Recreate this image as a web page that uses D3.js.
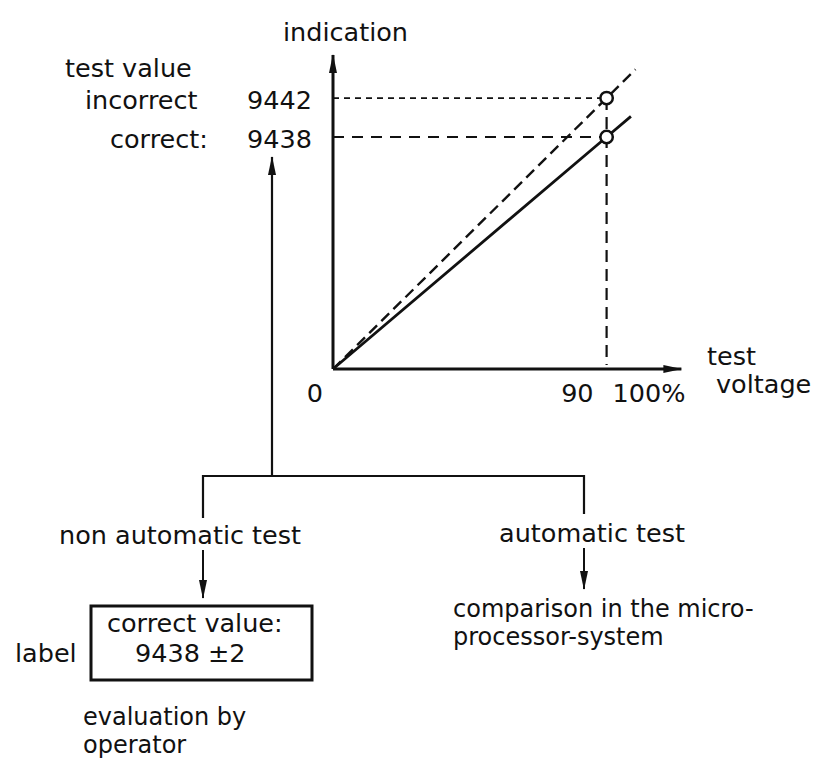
<!DOCTYPE html>
<html>
<head>
<meta charset="utf-8">
<script src="https://cdn.jsdelivr.net/npm/d3@7"></script>
<style>
    body { margin: 0; background: #fff; }
    text { font-family: "DejaVu Sans", sans-serif; font-size: 25.5px; fill: #111; }
    text.small { font-size: 24px; }
</style>
</head>
<body>
<div id="chart-container"></div>
<script>
// test voltage in % of range, indication in relative units (schematic)
const correctVoltage = [0, 90, 98];
const correctIndication = [0, 90, 98];
const incorrectVoltage = [0, 90, 99.5];
const incorrectIndication = [0, 105.1, 116.2];

const markVoltage = 90;
const testValueNames = ["incorrect", "correct:"];
const testValueLabels = ["9442", "9438"];
const testValueLevels = [105.1, 90];

const xTickValues = [0, 90, 100];
const xTickLabels = ["0", "90", "100%"];

const width = 813, height = 765;

const svg = d3.select("#chart-container")
    .append("svg")
    .attr("width", width)
    .attr("height", height);

svg.append("rect").attr("width", width).attr("height", height).attr("fill", "#fff");

// arrow heads
const defs = svg.append("defs");
defs.append("marker")
    .attr("id", "arrow")
    .attr("markerUnits", "userSpaceOnUse")
    .attr("viewBox", "0 0 19 10")
    .attr("refX", 18).attr("refY", 5)
    .attr("markerWidth", 19).attr("markerHeight", 10)
    .attr("orient", "auto")
    .append("path")
    .attr("d", "M0,1 L19,5 L0,9 Z")
    .attr("fill", "#111");

// scales
const x = d3.scaleLinear().domain([0, 100]).range([333, 637]);
const y = d3.scaleLinear().domain([0, 90]).range([369, 137]);

// axes (arrows beyond the data range)
svg.append("line")
    .attr("x1", x(0)).attr("y1", y(0))
    .attr("x2", x(114.6)).attr("y2", y(0))
    .attr("stroke", "#111").attr("stroke-width", 3)
    .attr("marker-end", "url(#arrow)");
svg.append("line")
    .attr("x1", x(0)).attr("y1", y(0))
    .attr("x2", x(0)).attr("y2", y(121.8))
    .attr("stroke", "#111").attr("stroke-width", 3)
    .attr("marker-end", "url(#arrow)");

// helper lines to the marks
const hiY = y(testValueLevels[0]), loY = y(testValueLevels[1]);
svg.append("line")
    .attr("x1", x(0)).attr("y1", hiY).attr("x2", x(markVoltage) - 6).attr("y2", hiY)
    .attr("stroke", "#111").attr("stroke-width", 1.7)
    .attr("stroke-dasharray", "6 5");
svg.append("line")
    .attr("x1", x(0)).attr("y1", loY).attr("x2", x(markVoltage) - 6).attr("y2", loY)
    .attr("stroke", "#111").attr("stroke-width", 2)
    .attr("stroke-dasharray", "11 8");
svg.append("line")
    .attr("x1", x(markVoltage)).attr("y1", hiY).attr("x2", x(markVoltage)).attr("y2", y(0) - 4)
    .attr("stroke", "#111").attr("stroke-width", 2.2)
    .attr("stroke-dasharray", "12 7");

// characteristic lines
const line = d3.line().x(d => x(d[0])).y(d => y(d[1]));
svg.append("path")
    .datum(d3.zip(incorrectVoltage, incorrectIndication))
    .attr("d", line)
    .attr("fill", "none").attr("stroke", "#111").attr("stroke-width", 2.4)
    .attr("stroke-dasharray", "11 6");
svg.append("path")
    .datum(d3.zip(correctVoltage, correctIndication))
    .attr("d", line)
    .attr("fill", "none").attr("stroke", "#111").attr("stroke-width", 2.8);

// test points
svg.selectAll("circle.pt")
    .data(testValueLevels)
    .join("circle")
    .attr("class", "pt")
    .attr("cx", x(markVoltage))
    .attr("cy", d => y(d))
    .attr("r", 6.2)
    .attr("fill", "#fff").attr("stroke", "#111").attr("stroke-width", 2.5);

// axis texts
svg.append("text").attr("x", 283).attr("y", 41).text("indication");
svg.append("text").attr("x", 707).attr("y", 365).text("test");
svg.append("text").attr("x", 716).attr("y", 393).text("voltage");

svg.selectAll("text.xtick")
    .data(xTickValues)
    .join("text")
    .attr("class", "xtick")
    .attr("x", (d, i) => i == 2 ? x(markVoltage) + 6 : x(d) - [10, 13][i])
    .attr("y", y(0) + 33)
    .attr("text-anchor", (d, i) => i == 2 ? "start" : "end")
    .text((d, i) => xTickLabels[i]);

// test value labels
svg.append("text").attr("x", 65).attr("y", 77).text("test value");
svg.selectAll("text.tvname")
    .data(testValueLevels)
    .join("text")
    .attr("class", "tvname")
    .attr("x", (d, i) => [85, 110][i])
    .attr("y", d => y(d) + 11)
    .text((d, i) => testValueNames[i]);
svg.selectAll("text.tvval")
    .data(testValueLevels)
    .join("text")
    .attr("class", "tvval")
    .attr("x", 247)
    .attr("y", d => y(d) + 11)
    .text((d, i) => testValueLabels[i]);

// flow part
const flow = svg.append("g").attr("stroke", "#111").attr("fill", "none");
flow.append("line")
    .attr("x1", 272).attr("y1", 476).attr("x2", 272).attr("y2", 157)
    .attr("stroke-width", 2.2)
    .attr("marker-end", "url(#arrow)");
flow.append("path")
    .attr("d", "M203,518 V476 H584 V514")
    .attr("stroke-width", 2.2);
flow.append("line")
    .attr("x1", 203).attr("y1", 550).attr("x2", 203).attr("y2", 598)
    .attr("stroke-width", 2)
    .attr("marker-end", "url(#arrow)");
flow.append("line")
    .attr("x1", 584).attr("y1", 548).attr("x2", 584).attr("y2", 589)
    .attr("stroke-width", 2)
    .attr("marker-end", "url(#arrow)");
flow.append("rect")
    .attr("x", 91).attr("y", 606).attr("width", 221).attr("height", 74)
    .attr("stroke-width", 3);

svg.append("text").attr("x", 59).attr("y", 544).text("non automatic test");
svg.append("text").attr("x", 499).attr("y", 542).text("automatic test");
svg.append("text").attr("class", "small").attr("x", 453).attr("y", 617).text("comparison in the micro-");
svg.append("text").attr("class", "small").attr("x", 453).attr("y", 645).text("processor-system");
svg.append("text").attr("x", 107).attr("y", 632).text("correct value:");
svg.append("text").attr("x", 135).attr("y", 662).text("9438 \u00b12");
svg.append("text").attr("x", 15).attr("y", 662).text("label");
svg.append("text").attr("class", "small").attr("x", 83).attr("y", 725).text("evaluation by");
svg.append("text").attr("class", "small").attr("x", 83).attr("y", 753).text("operator");
</script>
</body>
</html>
